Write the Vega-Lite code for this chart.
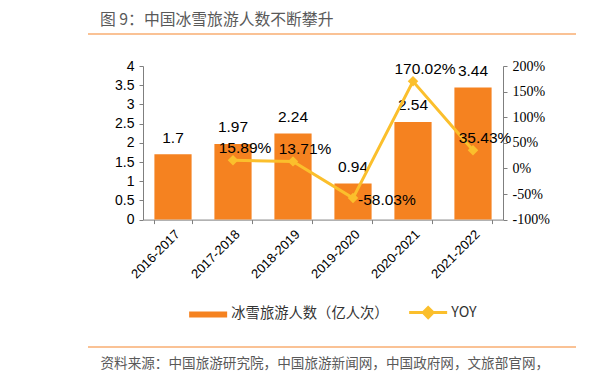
{
  "$schema": "https://vega.github.io/schema/vega-lite/v6.json",
  "width": 360,
  "height": 153.6,
  "autosize": {"type": "none"},
  "padding": {"left": 143, "top": 66, "right": 112, "bottom": 162.4},
  "background": "white",
  "config": {
    "view": {"stroke": null},
    "axis": {"labelOverlap": false},
    "locale": {"number": {"decimal": ".", "thousands": ",", "grouping": [3], "currency": ["$", ""], "minus": "-"}}
  },
  "title": {
    "text": "图 9：中国冰雪旅游人数不断攀升",
    "anchor": "start",
    "frame": "group",
    "dx": -43,
    "dy": 18,
    "font": "Noto Sans CJK SC",
    "fontSize": 15.8,
    "fontWeight": "normal",
    "color": "#595959",
    "baseline": "middle",
    "offset": 15
  },
  "data": {
    "values": [
      {"period": "2016-2017", "visitors": 1.7, "yoy": null},
      {"period": "2017-2018", "visitors": 1.97, "yoy": 0.1589},
      {"period": "2018-2019", "visitors": 2.24, "yoy": 0.1371},
      {"period": "2019-2020", "visitors": 0.94, "yoy": -0.5803},
      {"period": "2020-2021", "visitors": 2.54, "yoy": 1.7002},
      {"period": "2021-2022", "visitors": 3.44, "yoy": 0.3543}
    ]
  },
  "layer": [
    {
      "encoding": {
        "x": {
          "field": "period", "type": "nominal", "sort": null,
          "scale": {"type": "band", "paddingInner": 0.38, "paddingOuter": 0.19},
          "axis": {
            "labelAngle": -45,
            "labelFont": "Liberation Sans",
            "labelFontSize": 13,
            "labelColor": "#000000",
            "labelPadding": 4,
            "tickBand": "extent",
            "tickSize": 4,
            "tickColor": "#7f7f7f",
            "domainColor": "#7f7f7f",
            "title": "资料来源：中国旅游研究院，中国旅游新闻网，中国政府网，文旅部官网，",
            "titleX": -43,
            "titleY": 144,
            "titleAlign": "left",
            "titleAnchor": null,
            "titleBaseline": "middle",
            "titleFont": "Noto Sans CJK SC",
            "titleFontSize": 13.6,
            "titleFontWeight": "normal",
            "titleColor": "#595959"
          }
        },
        "y": {
          "field": "visitors", "type": "quantitative",
          "scale": {"domain": [0, 4], "nice": false},
          "axis": {
            "orient": "left",
            "values": [0, 0.5, 1, 1.5, 2, 2.5, 3, 3.5, 4],
            "format": "~g",
            "labelOverlap": false,
            "grid": false,
            "title": null,
            "labelFont": "Liberation Sans",
            "labelFontSize": 14,
            "labelColor": "#000000",
            "labelPadding": 5,
            "tickSize": 4,
            "tickColor": "#7f7f7f",
            "domainColor": "#7f7f7f"
          }
        }
      },
      "layer": [
        {
          "mark": {"type": "bar"},
          "encoding": {
            "color": {
              "datum": "冰雪旅游人数（亿人次）",
              "type": "nominal",
              "scale": {"domain": ["冰雪旅游人数（亿人次）", "YOY"], "range": ["#F58220", "#FBBF2C"]},
              "legend": {
                "title": null,
                "orient": "none",
                "direction": "horizontal",
                "legendX": 58,
                "legendY": 239,
                "labelFont": "Noto Sans CJK SC",
                "labelFontSize": 14.3,
                "labelColor": "#333333",
                "labelOffset": 16,
                "columnPadding": 14,
                "symbolSize": 1444,
                "symbolStrokeWidth": 0,
                "symbolType": "M-1,-0.16H1V0.16H-1Z",
                "labelLimit": 300,
                "encode": {
                  "symbols": {
                    "update": {
                      "shape": {"signal": "datum.value === 'YOY' ? 'M-1,0H1M-0.26,0L0,-0.26L0.26,0L0,0.26Z' : 'M-1,-0.16H1V0.16H-1Z'"},
                      "fill": {"signal": "datum.value === 'YOY' ? '#FBBF2C' : '#F58220'"},
                      "stroke": {"signal": "datum.value === 'YOY' ? '#FBBF2C' : '#F58220'"},
                      "strokeWidth": {"signal": "datum.value === 'YOY' ? 3 : 0"},
                      "opacity": {"value": 1},
                      "fillOpacity": {"value": 1},
                      "strokeOpacity": {"value": 1}
                    }
                  }
                }
              }
            }
          }
        },
        {
          "mark": {"type": "text", "font": "Liberation Sans", "fontSize": 15.5, "baseline": "middle", "dy": -16.7, "color": "#000000"},
          "encoding": {
            "text": {"field": "visitors", "type": "quantitative"}
          }
        }
      ]
    },
    {
      "encoding": {
        "x": {"field": "period", "type": "nominal", "sort": null, "scale": {"type": "point", "padding": 0.5}, "axis": null},
        "y": {
          "field": "yoy", "type": "quantitative",
          "scale": {"domain": [-1, 2], "nice": false},
          "axis": {
            "orient": "right",
            "values": [-1, -0.5, 0, 0.5, 1, 1.5, 2],
            "labelOverlap": false,
            "format": ".0%",
            "grid": false,
            "title": null,
            "labelFont": "Liberation Serif",
            "labelFontSize": 14,
            "labelColor": "#000000",
            "labelPadding": 5,
            "tickSize": 4,
            "tickColor": "#7f7f7f",
            "domainColor": "#7f7f7f"
          }
        }
      },
      "layer": [
        {
          "mark": {"type": "line", "strokeWidth": 3},
          "encoding": {
            "color": {"datum": "YOY", "type": "nominal"}
          }
        },
        {
          "mark": {"type": "point", "shape": "diamond", "filled": true, "size": 110, "opacity": 1, "color": "#FBBF2C"}
        },
        {
          "transform": [{"filter": "datum.yoy > 0"}],
          "mark": {"type": "text", "font": "Liberation Sans", "fontSize": 15.5, "baseline": "middle", "align": "center", "dx": 12, "dy": -12, "color": "#000000"},
          "encoding": {
            "text": {"field": "yoy", "type": "quantitative", "format": ".2%"}
          }
        },
        {
          "transform": [{"filter": "datum.yoy < 0"}],
          "mark": {"type": "text", "font": "Liberation Sans", "fontSize": 15.5, "baseline": "middle", "align": "left", "dx": 5, "dy": 2, "color": "#000000"},
          "encoding": {
            "text": {"field": "yoy", "type": "quantitative", "format": ".2%"}
          }
        }
      ]
    },
    {
      "data": {"values": [{}]},
      "layer": [
        {
          "mark": {"type": "rule", "color": "#F8AE72", "strokeWidth": 1.5},
          "encoding": {
            "x": {"datum": 0, "type": "quantitative", "scale": {"domain": [0, 1], "range": [-55, 433]}, "axis": null},
            "x2": {"datum": 1},
            "y": {"datum": 0, "type": "quantitative", "scale": {"domain": [0, 1], "range": [-32, 281]}, "axis": null}
          }
        },
        {
          "mark": {"type": "rule", "color": "#F8AE72", "strokeWidth": 1.5},
          "encoding": {
            "x": {"datum": 0, "type": "quantitative"},
            "x2": {"datum": 1},
            "y": {"datum": 1, "type": "quantitative"}
          }
        }
      ]
    }
  ],
  "resolve": {"scale": {"x": "independent", "y": "independent"}}
}
